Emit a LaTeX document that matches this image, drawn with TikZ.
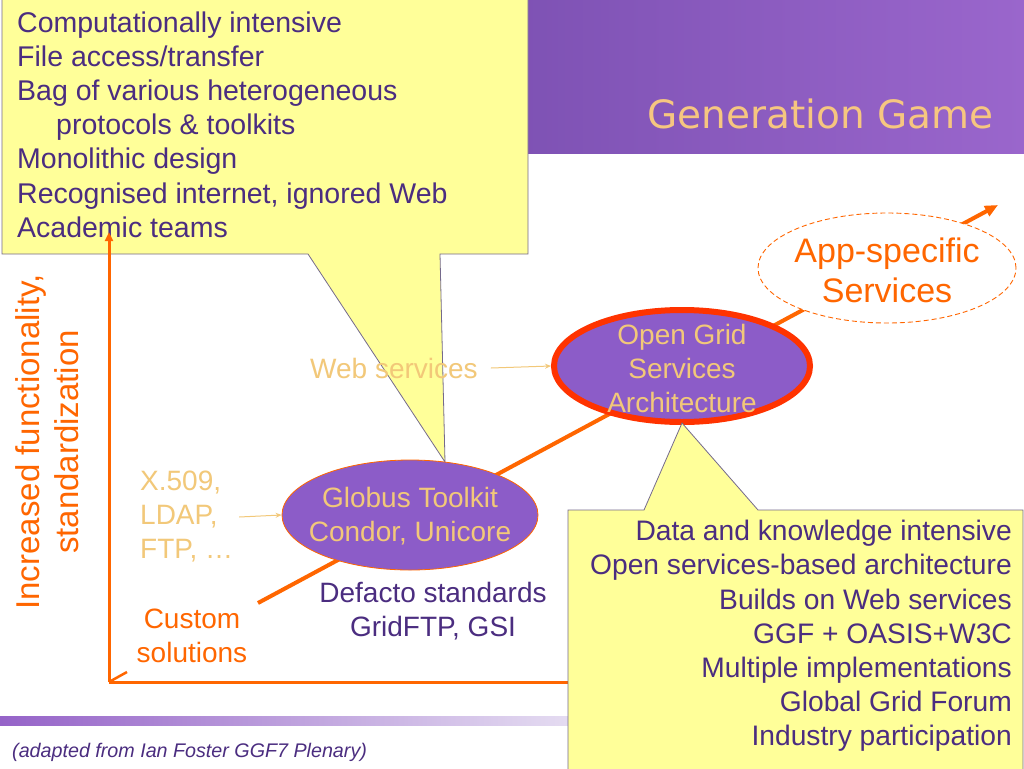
\documentclass[tikz,border=0pt]{standalone}
\usepackage{fontspec}
\setmainfont{Liberation Sans}
\newfontfamily\titlefont{DejaVu Sans}
\usetikzlibrary{shapes.geometric,arrows.meta}
\definecolor{ylw}{HTML}{FFFF99}
\definecolor{cborder}{HTML}{756A8C}
\definecolor{dpurple}{HTML}{4B2D80}
\definecolor{blobpurple}{HTML}{8C5CC8}
\definecolor{orng}{HTML}{FF6600}
\definecolor{redorng}{HTML}{FF3300}
\definecolor{ltorng}{HTML}{F2C879}
\definecolor{titleorng}{HTML}{F6C680}
\definecolor{hdleft}{HTML}{7E52B4}
\definecolor{hdright}{HTML}{9A66CC}
\definecolor{barleft}{HTML}{9563C8}
\definecolor{barright}{HTML}{E6DEF2}
\newcommand\myfs[2]{\fontsize{#1}{#2}\selectfont}
\begin{document}
\begin{tikzpicture}[x=1pt,y=-1pt,
  txt/.style={inner sep=0pt, font=\myfs{28}{34}},
  callout/.style={fill=ylw, draw=cborder, line width=0.8pt},
  axisline/.style={draw=orng, line width=3pt},
  mainline/.style={draw=orng, line width=4pt},
  thinarrow/.style={draw=ltorng, line width=1pt, -{Stealth[length=6pt,width=5pt]}},
  blob/.style={ellipse, fill=blobpurple, inner sep=0pt}]
\useasboundingbox (0,0) rectangle (1024,768);
\fill[white] (0,0) rectangle (1024,768);
% header band and bottom bar
\shade[left color=hdleft, right color=hdright] (520,0) rectangle (1024,153);
\shade[left color=barleft, right color=barright] (0,716) rectangle (580,725);
\node[anchor=base east, inner sep=0pt, text=titleorng, font=\titlefont\myfs{39}{46}] (title) at (994,128) {Generation Game};
% main diagonal line
\coordinate (start) at (258,603);
\coordinate (tip) at (998,205);
\draw[mainline, -{Triangle[length=13pt,width=11pt]}] (start) -- (tip);
% top-left callout
\path[callout] (2,-2) -- (528,-2) -- (528,254) -- (440,254) -- (445,462) -- (308,254) -- (2,254) -- cycle;
\node[txt, font=\myfs{28.5}{34.2}, text=dpurple, align=left, anchor=west] (old) at (17,124.5) {Computationally intensive\\File access/transfer\\Bag of various heterogeneous\\\hspace*{39pt}protocols \& toolkits\\Monolithic design\\Recognised internet, ignored Web\\Academic teams};
% axes
\coordinate (corner) at (109,682);
\coordinate (ytop) at (109,232);
\coordinate (xend) at (600,682);
\draw[axisline, -{Triangle[length=9pt,width=8pt]}] (corner) -- (ytop);
\draw[axisline] (corner) -- (xend);
\draw[axisline, line width=2.5pt] (corner) -- ++(18,-10);
% ellipses
\node[blob, draw=orng, line width=0.8pt, minimum width=256pt, minimum height=110pt] (globus) at (410,515) {};
\node[ellipse, fill=white, draw=orng, line width=0.9pt, dashed, dash pattern=on 5pt off 3pt, minimum width=258pt, minimum height=110pt, inner sep=0pt] (app) at (887,268) {};
\node[blob, draw=redorng, line width=6pt, minimum width=256pt, minimum height=112pt] (ogsa) at (682,366) {};
% texts
\node[txt, text=ltorng, align=center] (globustxt) at (410,516) {Globus Toolkit\\Condor, Unicore};
\node[txt, text=ltorng, align=center] (ogsatxt) at (682,368) {Open Grid\\Services\\Architecture};
\node[inner sep=0pt, text=orng, align=center, font=\myfs{34}{40}] (apptxt) at (887,270) {App-specific\\Services};
\node[inner sep=0pt, text=orng, align=center, font=\myfs{33}{39}, rotate=90] (yaxis) at (47,442) {Increased functionality,\\standardization};
\node[txt, text=ltorng, align=left, anchor=west] (x509) at (140,517) {X.509,\\LDAP,\\FTP, \dots};
\node[txt, text=ltorng, anchor=west] (web) at (310,368) {Web services};
\node[txt, text=orng, align=center] (custom) at (192,636) {Custom\\solutions};
\node[txt, text=dpurple, align=center] (defacto) at (433,611) {Defacto standards\\GridFTP, GSI};
\draw[thinarrow] ([xshift=6pt]x509.east) -- (globus.west);
\draw[thinarrow] ([xshift=13pt]web.east) -- (ogsa.west);
% footer
\node[anchor=base west, inner sep=0pt, text=dpurple, font=\itshape\myfs{19.7}{23}] (footer) at (12,757) {(adapted from Ian Foster GGF7 Plenary)};
% bottom-right callout
\path[callout] (568,510) -- (644,510) -- (682,423) -- (758,510) -- (1023,510) -- (1023,772) -- (568,772) -- cycle;
\node[txt, font=\myfs{28.2}{34.2}, text=dpurple, align=right, anchor=east] (new) at (1012,636) {Data and knowledge intensive\\Open services-based architecture\\Builds on Web services\\GGF + OASIS+W3C\\Multiple implementations\\Global Grid Forum\\Industry participation};
\end{tikzpicture}
\end{document}
